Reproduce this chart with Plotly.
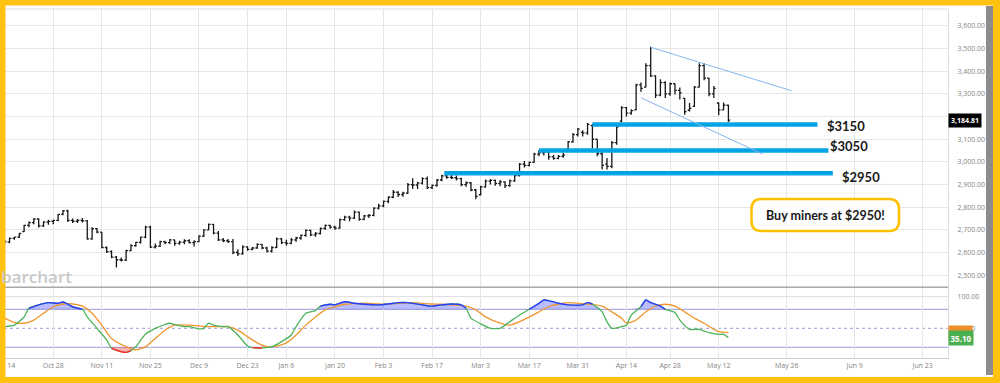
import pandas as pd
import plotly.graph_objects as go

# ------------------------------------------------------------------ data
first_day = "2024-10-14"
last_day = "2025-05-14"
holidays = ["2024-12-25", "2025-01-01", "2025-04-18"]
view_end = "2025-06-28 05:00"

open_ = [2650, 2646, 2662, 2668, 2692, 2720, 2732, 2748, 2718, 2734,
         2737, 2742, 2768, 2784, 2742, 2738, 2742, 2740, 2660, 2705,
         2690, 2622, 2604, 2580, 2568, 2566, 2608, 2630, 2645, 2668,
         2712, 2624, 2628, 2648, 2644, 2656, 2640, 2646, 2652, 2644,
         2648, 2672, 2700, 2724, 2686, 2656, 2652, 2648, 2600, 2594,
         2625, 2614, 2620, 2636, 2620, 2606, 2622, 2660, 2644, 2640,
         2656, 2664, 2676, 2698, 2678, 2684, 2706, 2720, 2712, 2708,
         2745, 2756, 2752, 2778, 2746, 2762, 2764, 2796, 2806, 2826,
         2844, 2866, 2856, 2862, 2900, 2898, 2906, 2926, 2886, 2896,
         2920, 2938, 2932, 2930, 2926, 2900, 2908, 2876, 2855, 2890,
         2915, 2918, 2905, 2912, 2895, 2916, 2940, 2990, 2985, 2998,
         3034, 3040, 3044, 3022, 3016, 3024, 3055, 3088, 3120, 3130,
         3128, 3160, 3100, 3036, 2990, 2980, 3085, 3180, 3240, 3215,
         3230, 3340, 3330, 3425, 3380, 3295, 3350, 3300, 3345, 3316,
         3280, 3228, 3245, 3330, 3425, 3370, 3300, 3260, 3230, 3250]
high = [2656, 2666, 2670, 2685, 2722, 2737, 2751, 2751, 2738, 2745,
        2745, 2770, 2788, 2789, 2750, 2748, 2752, 2744, 2712, 2708,
        2690, 2626, 2610, 2585, 2578, 2612, 2636, 2648, 2670, 2718,
        2718, 2640, 2652, 2652, 2660, 2656, 2652, 2658, 2658, 2654,
        2676, 2703, 2728, 2726, 2695, 2664, 2660, 2660, 2614, 2632,
        2628, 2624, 2641, 2638, 2625, 2628, 2666, 2664, 2656, 2664,
        2670, 2680, 2702, 2700, 2690, 2710, 2724, 2722, 2718, 2750,
        2762, 2762, 2785, 2780, 2766, 2770, 2800, 2815, 2830, 2848,
        2876, 2870, 2868, 2907, 2928, 2912, 2932, 2935, 2900, 2925,
        2943, 2945, 2944, 2940, 2930, 2914, 2910, 2880, 2895, 2922,
        2925, 2922, 2920, 2915, 2922, 2945, 2995, 3004, 3002, 3040,
        3052, 3056, 3046, 3032, 3030, 3040, 3092, 3128, 3150, 3140,
        3172, 3166, 3100, 3054, 3017, 3092, 3160, 3246, 3242, 3232,
        3345, 3350, 3435, 3508, 3382, 3365, 3356, 3350, 3346, 3328,
        3282, 3260, 3335, 3435, 3436, 3372, 3335, 3262, 3262, 3252]
low = [2638, 2641, 2656, 2664, 2690, 2712, 2725, 2710, 2713, 2722,
       2725, 2738, 2764, 2735, 2730, 2730, 2732, 2656, 2656, 2685,
       2619, 2598, 2575, 2534, 2560, 2562, 2605, 2625, 2640, 2663,
       2620, 2618, 2624, 2636, 2638, 2630, 2634, 2636, 2640, 2626,
       2645, 2668, 2698, 2681, 2651, 2645, 2642, 2592, 2585, 2590,
       2608, 2610, 2617, 2614, 2600, 2600, 2620, 2638, 2630, 2636,
       2648, 2656, 2670, 2672, 2670, 2680, 2700, 2705, 2700, 2705,
       2740, 2738, 2748, 2740, 2742, 2752, 2760, 2790, 2800, 2818,
       2840, 2845, 2846, 2858, 2880, 2880, 2900, 2880, 2880, 2890,
       2915, 2926, 2925, 2918, 2892, 2890, 2870, 2835, 2852, 2886,
       2900, 2895, 2893, 2885, 2890, 2912, 2936, 2975, 2980, 2996,
       3025, 3028, 3010, 3010, 3012, 3018, 3052, 3085, 3112, 3112,
       3120, 3060, 3025, 2966, 2966, 2972, 3076, 3176, 3200, 3208,
       3228, 3310, 3328, 3375, 3282, 3290, 3282, 3292, 3298, 3275,
       3208, 3222, 3242, 3328, 3360, 3290, 3282, 3206, 3228, 3176]
close = [2648, 2662, 2668, 2684, 2720, 2732, 2748, 2718, 2734, 2737,
         2742, 2768, 2784, 2742, 2738, 2742, 2740, 2660, 2705, 2690,
         2622, 2604, 2580, 2568, 2566, 2608, 2630, 2645, 2668, 2712,
         2624, 2628, 2648, 2644, 2656, 2640, 2646, 2652, 2644, 2648,
         2672, 2700, 2724, 2686, 2656, 2652, 2648, 2600, 2594, 2625,
         2614, 2620, 2636, 2620, 2606, 2622, 2660, 2644, 2640, 2656,
         2664, 2676, 2698, 2678, 2684, 2706, 2720, 2712, 2708, 2745,
         2756, 2752, 2778, 2746, 2762, 2764, 2796, 2806, 2826, 2844,
         2866, 2856, 2862, 2900, 2898, 2906, 2926, 2886, 2896, 2920,
         2938, 2932, 2930, 2926, 2900, 2908, 2876, 2848, 2890, 2915,
         2918, 2905, 2912, 2895, 2916, 2940, 2990, 2985, 2998, 3034,
         3040, 3044, 3022, 3016, 3024, 3030, 3088, 3120, 3145, 3128,
         3166, 3100, 3036, 2985, 2980, 3085, 3155, 3240, 3215, 3226,
         3340, 3325, 3425, 3380, 3295, 3350, 3300, 3345, 3316, 3305,
         3222, 3236, 3330, 3425, 3370, 3300, 3325, 3230, 3250, 3184.81]

tick_dates = ["2024-10-14", "2024-10-28", "2024-11-11", "2024-11-25", "2024-12-09",
              "2024-12-23", "2025-01-06", "2025-01-20", "2025-02-03", "2025-02-17",
              "2025-03-03", "2025-03-17", "2025-03-31", "2025-04-14", "2025-04-28",
              "2025-05-12", "2025-05-26", "2025-06-09", "2025-06-23"]
tick_labels = ["Oct 14", "Oct 28", "Nov 11", "Nov 25", "Dec 9", "Dec 23", "Jan 6",
               "Jan 20", "Feb 3", "Feb 17", "Mar 3", "Mar 17", "Mar 31", "Apr 14",
               "Apr 28", "May 12", "May 26", "Jun 9", "Jun 23"]

price_ticks = [2500, 2600, 2700, 2800, 2900, 3000, 3100, 3200, 3300, 3400, 3500, 3600]
hidden_price_tick = 3200

# support levels drawn by hand
level_values = [3165, 3050, 2950]
level_labels = ["$3150", "$3050", "$2950"]
level_start = ["2025-04-03", "2025-03-19", "2025-02-19 12:00"]
level_end = ["2025-06-01 08:00", "2025-06-03 14:00", "2025-06-04 12:00"]

# falling channel
channel_start = ["2025-04-22", "2025-04-17"]
channel_start_val = [3506, 3283]
channel_end = ["2025-05-27", "2025-05-21"]
channel_end_val = [3314, 3035]

# stochastic oscillator (bar number, value)
k_bar = [0, 2, 4, 5, 7, 9, 11, 12, 13, 14, 16, 17, 19, 21, 22, 24, 25, 26, 27, 29,
         31, 33, 34, 35, 37, 38, 40, 41, 42, 43, 45, 46, 48, 50, 51, 53, 55, 57, 59, 60,
         62, 64, 65, 67, 68, 70, 72, 74, 77, 79, 81, 83, 86, 88, 90, 92, 94, 95, 96, 98,
         100, 102, 104, 106, 108, 110, 111, 112, 114, 116, 119, 120, 121, 123, 124, 125,
         127, 128, 129, 131, 132, 133, 135, 136, 138, 139, 141, 143, 145, 147, 148, 149]
k_val = [52.6, 55, 68, 81.6, 87, 90.5, 89.5, 91.6, 88, 84, 80, 68, 50, 31.6, 18.4, 13, 12, 14.7, 21, 41,
         50, 56, 58, 56, 52.6, 52.6, 49, 50, 58, 55, 52.6, 52.6, 39.5, 22, 19.5, 19, 21, 29, 39.5, 52.6,
         73.7, 78, 85, 88, 87, 92, 89.5, 88, 87, 88.4, 90.5, 90.5, 87, 85, 87, 88.4, 87, 81.6, 66, 57,
         50, 50, 60.5, 71, 80, 89.5, 94.7, 93.7, 89.5, 87, 87, 90.5, 88.4, 76, 60.5, 50,
         52.6, 55, 71, 84, 94.7, 90.5, 85, 80, 74.7, 63, 48.4, 48.4, 43, 40.5, 40.5, 35.10]
d_bar = [0, 2, 4, 6, 8, 10, 12, 14, 16, 18, 20, 22, 25, 27, 29, 31, 33, 35, 38, 40,
         42, 44, 46, 48, 50, 52, 54, 56, 58, 60, 62, 64, 66, 68, 70, 73, 75, 77, 79, 81,
         84, 86, 88, 90, 92, 95, 97, 99, 102, 104, 106, 108, 110, 112, 114, 116, 118, 120,
         123, 125, 127, 128, 130, 132, 134, 136, 138, 140, 142, 144, 146, 147, 149]
d_val = [66, 59, 58, 63, 73.7, 84, 88.4, 88.4, 85, 73.7, 55, 34, 21, 15.8, 21, 34, 47, 55, 55, 53.7,
         52.6, 52.6, 52.6, 47, 36.8, 27, 21, 22, 27, 39.5, 55, 68, 79, 84, 88, 89.5, 89.5, 88.4, 88.4, 89.5,
         90.5, 89.5, 88.4, 88, 87, 85, 79, 68, 58, 55, 60.5, 68, 76, 84, 88.4, 90.5, 89.5, 88.4,
         85, 76, 66, 58, 63, 76, 85, 88, 85, 76, 66, 58, 48.4, 44.7, 43.04]
osc_upper, osc_mid, osc_lower = 80, 50, 20

callout_text = "Buy miners at $2950!"

# ------------------------------------------------------------------ geometry helpers
W, H = 1000, 383
ML, MR, MT, MB = 4, 52, 9, 25
PW, PH = W - ML - MR, H - MT - MB


def px(x):
    return (x - ML) / PW


def py(y):
    return (H - MB - y) / PH


trading = pd.bdate_range(first_day, last_day)
trading = trading[~trading.isin(pd.to_datetime(holidays))]
last_ts = trading[-1]
n_bars = len(trading)
assert n_bars == len(open_) == len(high) == len(low) == len(close)


def pos(s):
    ts = pd.Timestamp(s)
    d = ts.normalize()
    frac = (ts - d) / pd.Timedelta(days=1)
    if d <= last_ts:
        return float(trading.searchsorted(d)) + frac
    return (n_bars - 1) + (ts - last_ts) / pd.Timedelta(days=1)


x_bars = list(range(n_bars))
x_range = [pos(first_day) - 0.14, pos(view_end)]
tick_pos = [pos(d) for d in tick_dates]

split = py(287.3)
y_range = [2446.4, 3675.0]
y2_range = [3.1, 114.75]

# ------------------------------------------------------------------ figure
fig = go.Figure()

fig.add_trace(go.Ohlc(
    x=x_bars, open=open_, high=high, low=low, close=close,
    xaxis="x", yaxis="y",
    increasing=dict(line=dict(color="#151515", width=1.3)),
    decreasing=dict(line=dict(color="#151515", width=1.3)),
    tickwidth=0.38, hoverinfo="skip", showlegend=False))

# oscillator fills
k_hi = [max(v, osc_upper) for v in k_val]
k_lo = [min(v, osc_lower) for v in k_val]
common = dict(xaxis="x2", yaxis="y2", hoverinfo="skip", showlegend=False)
fig.add_trace(go.Scatter(x=k_bar, y=[osc_upper] * len(k_bar), mode="lines",
                         line=dict(width=0), **common))
fig.add_trace(go.Scatter(x=k_bar, y=k_hi, mode="lines", line=dict(width=0, shape="spline", smoothing=0.6),
                         fill="tonexty", fillcolor="rgba(70,80,255,0.38)", **common))
fig.add_trace(go.Scatter(x=k_bar, y=[osc_lower] * len(k_bar), mode="lines",
                         line=dict(width=0), **common))
fig.add_trace(go.Scatter(x=k_bar, y=k_lo, mode="lines", line=dict(width=0, shape="spline", smoothing=0.6),
                         fill="tonexty", fillcolor="rgba(255,40,40,0.35)", **common))

# %D and %K lines
fig.add_trace(go.Scatter(x=d_bar, y=d_val, mode="lines",
                         line=dict(color="#f0962e", width=1.3, shape="spline", smoothing=0.6), **common))
fig.add_trace(go.Scatter(x=k_bar, y=k_val, mode="lines",
                         line=dict(color="#4cb35a", width=1.3, shape="spline", smoothing=0.6), **common))
k_blue = [v if v >= osc_upper else None for v in k_val]
k_red = [v if v <= osc_lower else None for v in k_val]
fig.add_trace(go.Scatter(x=k_bar, y=k_blue, mode="lines", connectgaps=False,
                         line=dict(color="#2f3cff", width=1.4, shape="spline", smoothing=0.6), **common))
fig.add_trace(go.Scatter(x=k_bar, y=k_red, mode="lines", connectgaps=False,
                         line=dict(color="#ff2a2a", width=1.4, shape="spline", smoothing=0.6), **common))

# ------------------------------------------------------------------ shapes
shapes = []
# upper panel top line and separator
shapes.append(dict(type="line", xref="paper", yref="paper", x0=0, x1=1, y0=1, y1=1,
                   line=dict(color="#dddddd", width=1)))
shapes.append(dict(type="line", xref="paper", yref="paper", x0=0, x1=1, y0=split, y1=split,
                   line=dict(color="#a8a8a8", width=1.5)))
# oscillator guide lines
shapes.append(dict(type="line", xref="paper", yref="y2", x0=0, x1=1, y0=100, y1=100,
                   line=dict(color="#dddddd", width=1), layer="below"))
for lv in (osc_upper, osc_lower):
    shapes.append(dict(type="line", xref="paper", yref="y2", x0=0, x1=1, y0=lv, y1=lv,
                       line=dict(color="#9a9ad8", width=1), layer="below"))
shapes.append(dict(type="line", xref="paper", yref="y2", x0=0, x1=1, y0=osc_mid, y1=osc_mid,
                   line=dict(color="#9a9ad8", width=1, dash="dot"), layer="below"))

# support levels
for v, s, e in zip(level_values, level_start, level_end):
    shapes.append(dict(type="line", xref="x", yref="y", x0=pos(s), x1=pos(e), y0=v, y1=v,
                       line=dict(color="#04a3e6", width=4.5)))
# channel
for s, sv, e, ev in zip(channel_start, channel_start_val, channel_end, channel_end_val):
    shapes.append(dict(type="line", xref="x", yref="y", x0=pos(s), x1=pos(e), y0=sv, y1=ev,
                       line=dict(color="#86b6ee", width=1)))

# callout rounded box
bx0, bx1, by0, by1, r = 751.5, 899.0, 199.0, 231.0, 10.0
pts = [("M", bx0 + r, by0), ("L", bx1 - r, by0), ("Q", bx1, by0, bx1, by0 + r),
       ("L", bx1, by1 - r), ("Q", bx1, by1, bx1 - r, by1), ("L", bx0 + r, by1),
       ("Q", bx0, by1, bx0, by1 - r), ("L", bx0, by0 + r), ("Q", bx0, by0, bx0 + r, by0)]
path = ""
for p in pts:
    if p[0] == "Q":
        path += f"Q{px(p[1]):.5f},{py(p[2]):.5f} {px(p[3]):.5f},{py(p[4]):.5f} "
    else:
        path += f"{p[0]}{px(p[1]):.5f},{py(p[2]):.5f} "
path += "Z"
shapes.append(dict(type="path", xref="paper", yref="paper", path=path,
                   fillcolor="white", line=dict(color="#ffc000", width=2.5)))

# scrollbar
shapes.append(dict(type="rect", xref="paper", yref="paper", x0=px(986), x1=px(993),
                   y0=py(375), y1=py(6), fillcolor="#8c8c8c", line=dict(width=0), layer="above"))
# yellow frame
yellow = "#ffc20e"
for (x0, x1, y0, y1) in [(-2, 5.5, -2, 385), (993, 1002, -2, 385), (-2, 1002, -2, 5.5), (-2, 1002, 377, 385)]:
    shapes.append(dict(type="rect", xref="paper", yref="paper", x0=px(x0), x1=px(x1),
                       y0=py(y1), y1=py(y0), fillcolor=yellow, line=dict(width=0), layer="above"))

# ------------------------------------------------------------------ annotations
ann = []
label_pix = [(825, 126.0), (827.5, 145.7), (840, 177.3)]
for txt, (lx, ly) in zip(level_labels, label_pix):
    ann.append(dict(text=txt, xref="paper", yref="paper", x=px(lx), y=py(ly),
                    xanchor="left", yanchor="middle", showarrow=False,
                    font=dict(family="Lato", size=13, color="#1a1a1a", weight="bold")))
ann.append(dict(text=callout_text, xref="paper", yref="paper", x=px((bx0 + bx1) / 2), y=py(216),
                xanchor="center", yanchor="middle", showarrow=False,
                font=dict(family="Lato", size=12.5, color="#1a1a1a", weight="bold")))
# last price tag
ann.append(dict(text=f"{close[-1]:,.2f}", xref="paper", yref="y", x=1.0, y=close[-1],
                xanchor="left", yanchor="middle", showarrow=False, bgcolor="#000000",
                borderpad=2, font=dict(family="Open Sans", size=7, color="white", weight="bold")))
# oscillator value tags
ann.append(dict(text=f"{d_val[-1]:.2f}", xref="paper", yref="y2", x=1.0, y=d_val[-1],
                xanchor="left", yanchor="middle", showarrow=False, bgcolor="#ec8f2c",
                borderpad=1.5, font=dict(family="Open Sans", size=7.5, color="#222", weight="bold")))
ann.append(dict(text=f"{k_val[-1]:.2f}", xref="paper", yref="y2", x=1.0, y=k_val[-1],
                xanchor="left", yanchor="middle", showarrow=False, bgcolor="#4caf50",
                borderpad=1.5, font=dict(family="Open Sans", size=8, color="white", weight="bold")))
# watermark
ann.append(dict(text="barchart", xref="paper", yref="paper", x=px(-1.5), y=py(276.5),
                xanchor="left", yanchor="middle", showarrow=False,
                font=dict(family="Open Sans", size=17, color="#c9c9c9", weight=600)))

grid = "#e6e6e6"
tickfont = dict(family="Open Sans", size=7, color="#858585")
fig.update_layout(
    width=W, height=H, margin=dict(l=ML, r=MR, t=MT, b=MB, autoexpand=False),
    paper_bgcolor="white", plot_bgcolor="white", showlegend=False, hovermode=False,
    xaxis=dict(domain=[0, 1], anchor="y", range=x_range, tickvals=tick_pos, showticklabels=False,
               showgrid=True, gridcolor=grid, gridwidth=1, zeroline=False, ticks="",
               rangeslider=dict(visible=False), automargin=False),
    xaxis2=dict(domain=[0, 1], anchor="y2", range=x_range, tickvals=tick_pos, ticktext=tick_labels,
                showgrid=True, gridcolor=grid, gridwidth=1, zeroline=False, ticks="",
                tickfont=tickfont, ticklabeloverflow="allow", showline=True, linecolor="#cfcfcf",
                linewidth=1, rangeslider=dict(visible=False), ticklabelstandoff=1, automargin=False),
    yaxis=dict(domain=[split, 1], anchor="x", range=y_range, side="right",
               tickvals=price_ticks,
               ticktext=["" if t == hidden_price_tick else f"{t:,.2f}" for t in price_ticks],
               showgrid=True, gridcolor=grid, gridwidth=1, zeroline=False, ticks="",
               tickfont=tickfont, showline=True, linecolor="#dcdcdc", ticklabelstandoff=7,
               automargin=False),
    yaxis2=dict(domain=[0, split], anchor="x2", range=y2_range, side="right",
                tickvals=[50, 100], ticktext=["50.00", "100.00"], showgrid=False, zeroline=False,
                ticks="", tickfont=tickfont, showline=True, linecolor="#dcdcdc", ticklabelstandoff=7,
                automargin=False),
    shapes=shapes, annotations=ann,
)

fig.write_html("out.html", config={"displayModeBar": False},
               post_script="document.body.style.margin='0';")
